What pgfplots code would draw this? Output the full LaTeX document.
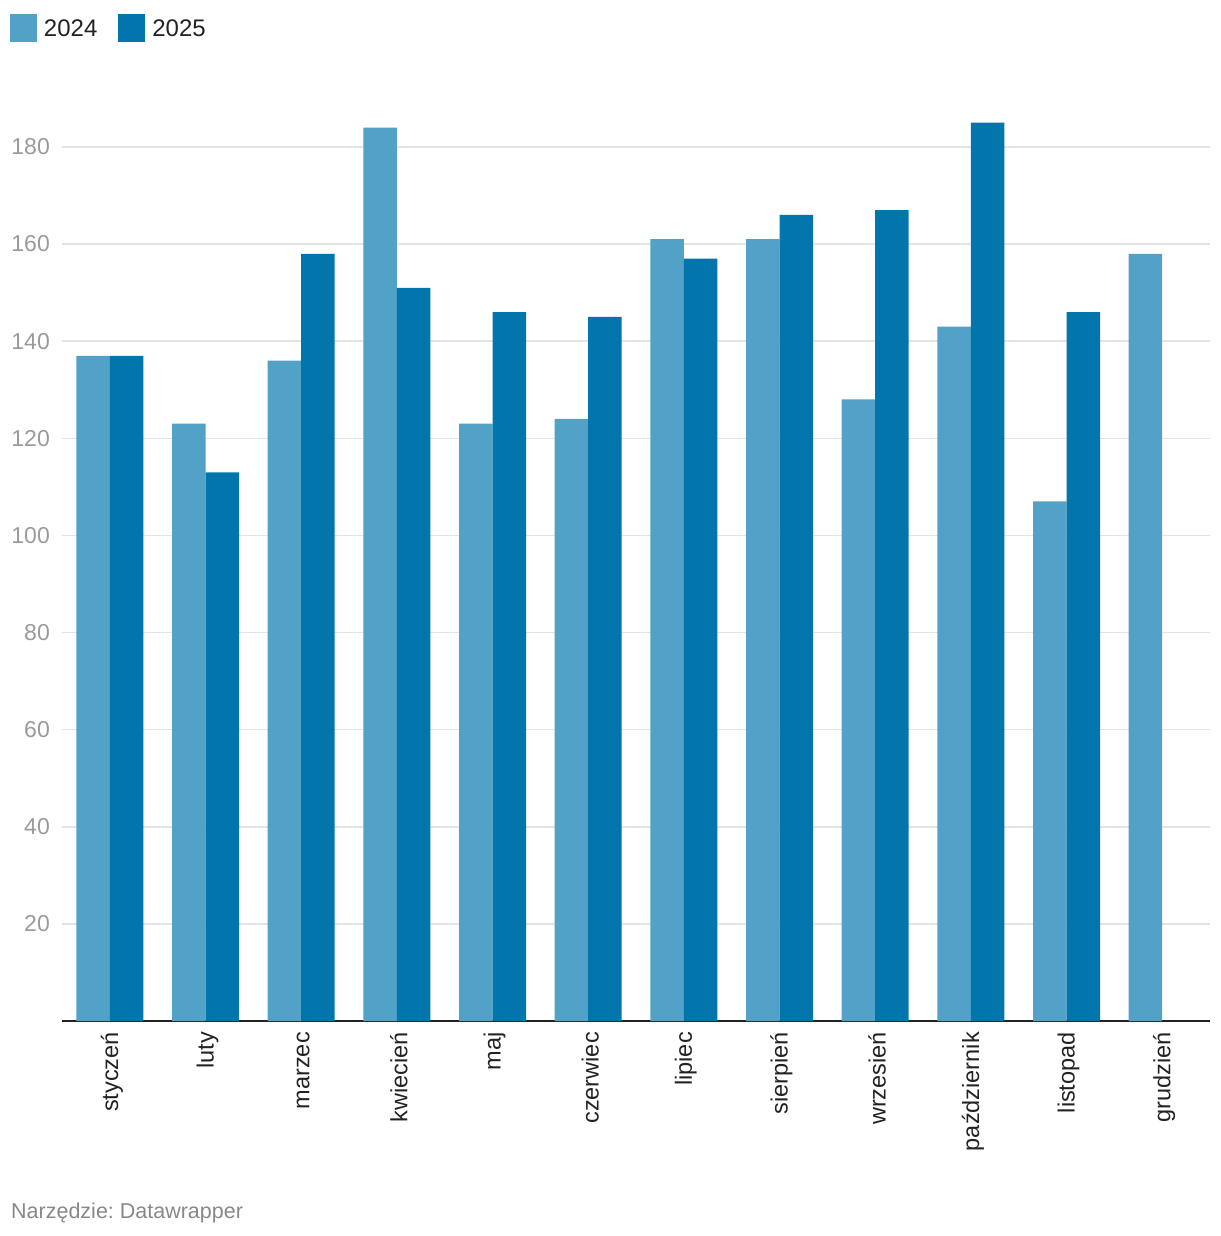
\documentclass[border=0pt]{standalone}
\usepackage{fontspec}
\setmainfont{Liberation Sans}
\usepackage{pgfplots}
\pgfplotsset{compat=1.18}
\frenchspacing
\definecolor{c24}{HTML}{52A2C8}
\definecolor{c25}{HTML}{0175AC}
\definecolor{tickgray}{HTML}{9A9A9A}
\definecolor{gridgray}{HTML}{E3E3E3}
\definecolor{labeldark}{HTML}{222222}
\definecolor{notegray}{HTML}{888888}
\begin{document}
\begin{tikzpicture}[x=1pt,y=1pt]
\useasboundingbox (0,0) rectangle (1220,-1236);
\begin{axis}[
  at={(62pt,-1021pt)}, anchor=south west,
  scale only axis, width=1148pt, height=922.6pt,
  xmin=-0.5, xmax=11.5, ymin=0, ymax=190,
  enlargelimits=false,
  ybar=0pt, bar width=33.5pt,
  axis x line=bottom, axis y line=left,
  x axis line style={-, line width=2.5pt, color=labeldark},
  y axis line style={draw=none},
  major tick length=0pt,
  xtick={0,...,11},
  xticklabels={styczeń,luty,marzec,kwiecień,maj,czerwiec,lipiec,sierpień,wrzesień,październik,listopad,grudzień},
  xticklabel style={rotate=90, anchor=east, inner sep=0pt, text=labeldark,
    xshift=0pt, yshift=-2pt,
    font=\fontsize{23.5}{28}\selectfont},
  xticklabel shift=11pt,
  ytick={20,40,...,180},
  yticklabel style={anchor=east, inner sep=0pt, text=tickgray,
    font=\fontsize{23}{27}\selectfont},
  yticklabel shift=12pt,
  /pgf/number format/assume math mode=true,
  ymajorgrids, major grid style={color=gridgray, line width=1.5pt},
  legend columns=2,
  legend style={at={(axis description cs:0,1)}, anchor=north west,
    xshift=-52pt, yshift=84pt, draw=none, fill=none,
    inner sep=0pt, outer sep=0pt,
    font=\fontsize{24}{28}\selectfont, text=labeldark,
    nodes={inner sep=0pt},
    /tikz/every even column/.append style={column sep=21pt}},
  legend image code/.code={\fill[#1] (0pt,-14pt) rectangle (27pt,14pt); \path (34pt,0pt);},
]
\addplot[fill=c24, draw=none] coordinates {
(0,137) (1,123) (2,136) (3,184) (4,123) (5,124)
(6,161) (7,161) (8,128) (9,143) (10,107) (11,158)
};
\addplot[fill=c25, draw=none] coordinates {
(0,137) (1,113) (2,158) (3,151) (4,146) (5,145)
(6,157) (7,166) (8,167) (9,185) (10,146)
};
\legend{2024,2025}
\end{axis}
\node[anchor=base west, inner sep=0pt, text=notegray,
  font=\fontsize{21.5}{26}\selectfont] at (11,-1218) {Narzędzie: Datawrapper};
\end{tikzpicture}
\end{document}
